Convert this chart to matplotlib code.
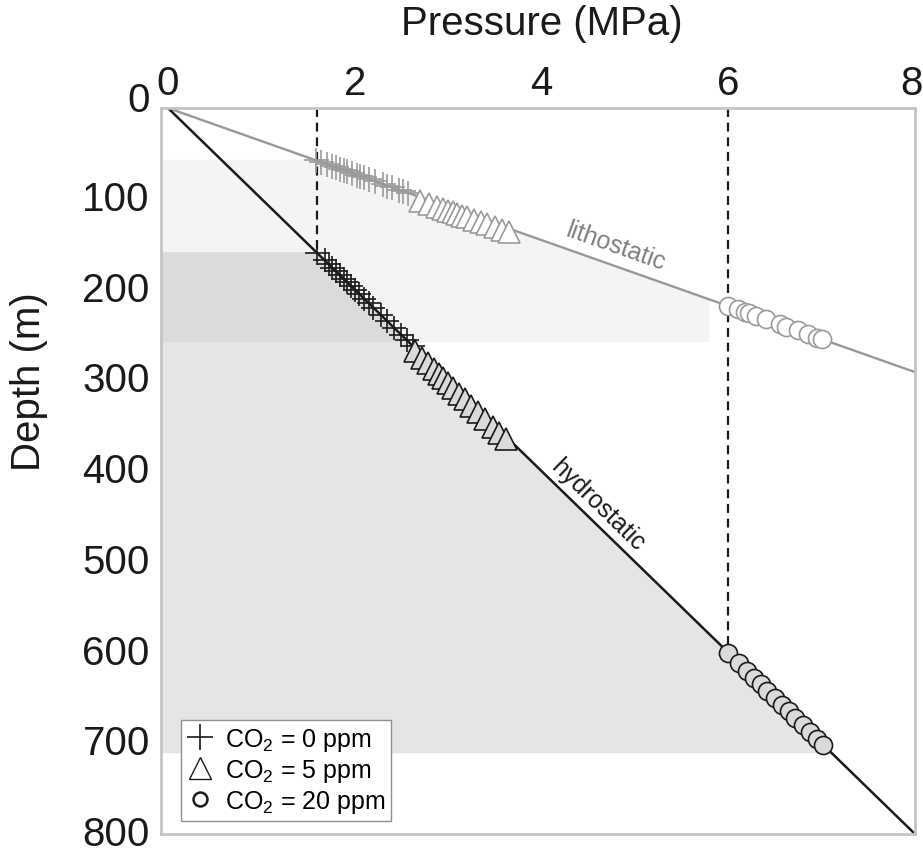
import matplotlib
matplotlib.use("Agg")
import matplotlib.pyplot as plt
import matplotlib.transforms as mtransforms
from matplotlib.lines import Line2D

# Pressure (MPa) vs depth (m) of CO2 degassing, hydrostatic and lithostatic gradients
litho_p = [0, 8]
litho_depth = [0, 291]
hydro_p = [0, 8]
hydro_depth = [0, 800]

# markers along the lithostatic gradient
litho_plus_p = [1.58, 1.64, 1.70, 1.76, 1.80, 1.84, 1.88, 1.92, 1.97, 2.02,
                2.06, 2.10, 2.15, 2.22, 2.30, 2.35, 2.40, 2.47, 2.52, 2.57]
litho_plus_depth = [57.5, 59.6, 61.8, 64.0, 65.5, 66.9, 68.4, 69.8, 71.6, 73.5,
                    74.9, 76.4, 78.2, 80.7, 83.6, 85.5, 87.3, 89.8, 91.6, 93.5]
litho_tri_p = [2.70, 2.80, 2.88, 2.95, 3.00, 3.05, 3.10, 3.15, 3.20, 3.28,
               3.35, 3.42, 3.50, 3.58, 3.65]
litho_tri_depth = [102, 106, 109, 111, 113, 115, 117, 119, 120, 123,
                   126, 128, 131, 134, 137]
litho_circ_p = [6.00, 6.10, 6.18, 6.22, 6.30, 6.40, 6.55, 6.62, 6.75, 6.85, 6.95, 7.00]
litho_circ_depth = [218, 222, 225, 226, 229, 233, 238, 241, 245, 249, 253, 255]

# markers along the hydrostatic gradient
hydro_plus_p = [1.60, 1.68, 1.72, 1.76, 1.80, 1.84, 1.88, 1.92, 1.96, 2.00,
                2.05, 2.10, 2.15, 2.20, 2.28, 2.35, 2.42, 2.50, 2.56, 2.62]
hydro_plus_depth = [160, 168, 172, 176, 180, 184, 188, 192, 196, 200,
                    205, 210, 215, 220, 228, 235, 242, 250, 256, 262]
hydro_tri_p = [2.65, 2.72, 2.78, 2.85, 2.90, 2.95, 3.00, 3.05, 3.12, 3.18,
               3.25, 3.32, 3.40, 3.48, 3.55, 3.62]
hydro_tri_depth = [268, 275, 281, 288, 293, 298, 303, 308, 315, 321,
                   328, 335, 343, 351, 358, 365]
hydro_circ_p = [6.00, 6.12, 6.20, 6.28, 6.35, 6.42, 6.50, 6.58, 6.65, 6.72,
                6.80, 6.88, 6.95, 7.02]
hydro_circ_depth = [600, 612, 620, 628, 635, 642, 650, 658, 665, 672,
                    680, 688, 695, 702]

# dashed guides and shaded depth ranges
guide_p = [1.6, 6.0]
guide_depth_end = [160, 600]
light_band_depth = [57, 258]
light_band_p_max = 5.8
dark_band_depth = [159, 711]

legend_labels = ["CO$_2$ = 0 ppm", "CO$_2$ = 5 ppm", "CO$_2$ = 20 ppm"]

plt.rcParams['font.family'] = ['Liberation Sans', 'DejaVu Sans']
plt.rcParams['mathtext.default'] = 'regular'

fig = plt.figure(figsize=(9.23, 8.53), dpi=100)
ax = fig.add_axes([0.1744, 0.0211, 0.8169, 0.8511])

xmin, xmax = -0.075, 8
ax.set_xlim(xmin, xmax)
ax.set_ylim(800, 0)

# shaded bands
lg = 0.0275  # lithostatic gradient MPa/m, used for band outline only
d0, d1 = light_band_depth
ax.fill([xmin, d0 * lg, light_band_p_max, light_band_p_max, xmin],
        [d0, d0, light_band_p_max / lg, d1, d1],
        color='#f3f4f4', lw=0, zorder=0)
h0, h1 = dark_band_depth
ax.fill([xmin, h0 / 100, h1 / 100, xmin], [h0, h0, h1, h1],
        color='black', alpha=0.1, lw=0, zorder=0.5)

# gradients
ax.plot(litho_p, litho_depth, color='#999999', lw=1.7, zorder=2)
ax.plot(hydro_p, hydro_depth, color='#1a1a1a', lw=1.8, zorder=2)

for p, d in zip(guide_p, guide_depth_end):
    ax.plot([p, p], [0, d], color='#1a1a1a', lw=1.6, ls=(0, (4, 2.6)), zorder=1.5)

# markers
ax.plot(litho_plus_p, litho_plus_depth, ls='none', marker='+', ms=18, mew=1.2,
        color='#9a9a9a', zorder=3)
ax.plot(litho_tri_p, litho_tri_depth, ls='none', marker='^', ms=16, mew=1.2,
        mfc='white', mec='#9a9a9a', zorder=3)
ax.plot(litho_circ_p, litho_circ_depth, ls='none', marker='o', ms=13, mew=1.2,
        mfc='white', mec='#9a9a9a', zorder=3)
ax.plot(hydro_plus_p, hydro_plus_depth, ls='none', marker='+', ms=17, mew=1.2,
        color='#1a1a1a', zorder=3)
ax.plot(hydro_tri_p, hydro_tri_depth, ls='none', marker='^', ms=16, mew=1.2,
        mfc='#dadada', mec='#1a1a1a', zorder=3)
ax.plot(hydro_circ_p, hydro_circ_depth, ls='none', marker='o', ms=13, mew=1.2,
        mfc='#dadada', mec='#1a1a1a', zorder=3)

# line labels
ax.text(4.79, 152, 'lithostatic', color='#808080', fontsize=18,
        rotation=-19.5, ha='center', va='center', rotation_mode='anchor')
ax.text(4.60, 437, 'hydrostatic', color='#1a1a1a', fontsize=18,
        rotation=-44.2, ha='center', va='center', rotation_mode='anchor')

# axes styling
ax.xaxis.tick_top()
ax.xaxis.set_label_position('top')
ax.set_xticks([0, 2, 4, 6, 8])
ax.set_yticks(range(0, 801, 100))
ax.tick_params(length=0, labelsize=29, colors='#1a1a1a')
ax.tick_params(axis='x', pad=4)
ax.tick_params(axis='y', pad=8)
for s in ax.spines.values():
    s.set_color('#c4c4c4')
    s.set_linewidth(2)

# reference places the depth labels slightly above their ticks
for i, lab in enumerate(ax.get_yticklabels()):
    dy = 0.12 if i == 0 else 0.04
    lab.set_transform(lab.get_transform() +
                      mtransforms.ScaledTranslation(0, dy, fig.dpi_scale_trans))
xlabs = ax.get_xticklabels()
xlabs[-1].set_transform(xlabs[-1].get_transform() +
                        mtransforms.ScaledTranslation(-0.04, 0, fig.dpi_scale_trans))

ax.set_xlabel('Pressure (MPa)', fontsize=29, color='#1a1a1a', va='center')
ax.xaxis.set_label_coords(0.505, 1.117)
ax.set_ylabel('Depth (m)', fontsize=29, color='#1a1a1a', va='center')
ax.yaxis.set_label_coords(-0.175, 0.625)

handles = [
    Line2D([], [], ls='none', marker='+', ms=19, mew=1.2, color='#1a1a1a'),
    Line2D([], [], ls='none', marker='^', ms=16, mew=1.0, mfc='white', mec='#1a1a1a'),
    Line2D([], [], ls='none', marker='o', ms=10, mew=1.8, mfc='white', mec='#1a1a1a'),
]
leg = ax.legend(handles, legend_labels, loc='lower left',
                bbox_to_anchor=(0.0265, 0.018), borderaxespad=0,
                fontsize=18, handlelength=1.0, handletextpad=0.5,
                labelspacing=0.15, borderpad=0.25, fancybox=False,
                framealpha=1, edgecolor='#909090')
leg.get_frame().set_linewidth(1)

plt.savefig('out.png', dpi=100)
